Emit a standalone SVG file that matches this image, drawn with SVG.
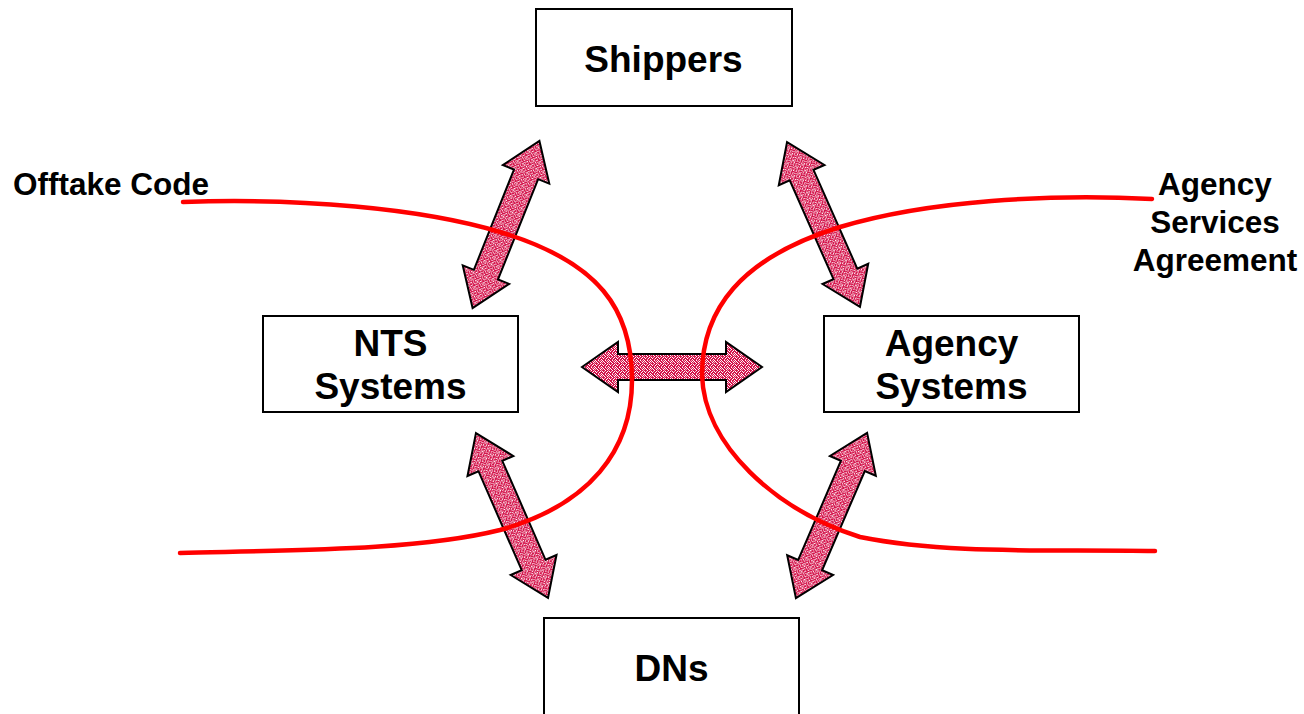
<svg xmlns="http://www.w3.org/2000/svg" width="1304" height="714" viewBox="0 0 1304 714">
<defs>
<style>
.box{fill:#fff;stroke:#000;stroke-width:2}
.lbl{font-family:"Liberation Sans",Arial,sans-serif;font-weight:bold;font-size:37px;fill:#000;text-anchor:middle}
.note{font-family:"Liberation Sans",Arial,sans-serif;font-weight:bold;font-size:31.5px;fill:#000}
.curve{fill:none;stroke:#ff0000;stroke-width:4.5;stroke-linecap:round}
.arr{fill:url(#speckle);stroke:#000;stroke-width:2;stroke-linejoin:miter}
.w{fill:#fff}
.p{fill:#f2a6ba}
</style>
<pattern id="speckle" patternUnits="userSpaceOnUse" width="7" height="7">
<rect width="7" height="7" fill="#d3124a"/>
<rect class="w" x="0" y="0" width="1" height="1"/>
<rect class="w" x="3" y="0" width="1" height="1"/>
<rect class="p" x="5" y="0" width="1" height="1"/>
<rect class="w" x="1" y="1" width="1" height="1"/>
<rect class="p" x="4" y="1" width="1" height="1"/>
<rect class="w" x="6" y="1" width="1" height="1"/>
<rect class="p" x="0" y="2" width="1" height="1"/>
<rect class="w" x="2" y="2" width="1" height="1"/>
<rect class="w" x="5" y="2" width="1" height="1"/>
<rect class="w" x="3" y="3" width="1" height="1"/>
<rect class="p" x="6" y="3" width="1" height="1"/>
<rect class="w" x="0" y="4" width="1" height="1"/>
<rect class="p" x="2" y="4" width="1" height="1"/>
<rect class="w" x="5" y="4" width="1" height="1"/>
<rect class="w" x="1" y="5" width="1" height="1"/>
<rect class="w" x="4" y="5" width="1" height="1"/>
<rect class="p" x="3" y="6" width="1" height="1"/>
<rect class="w" x="6" y="6" width="1" height="1"/>
</pattern>
<path id="dblarrow" class="arr" d="M-90,0 L-54,-25 L-54,-13 L54,-13 L54,-25 L90,0 L54,25 L54,13 L-54,13 L-54,25 Z"/>
</defs>
<rect width="1304" height="714" fill="#fff"/>

<g id="connectors">
<use href="#dblarrow" transform="translate(506,224.5) rotate(-68.2)"/>
<use href="#dblarrow" transform="translate(823.5,224.5) rotate(66.1)"/>
<use href="#dblarrow" transform="translate(672,367)"/>
<use href="#dblarrow" transform="translate(512,515.5) rotate(66.4)"/>
<use href="#dblarrow" transform="translate(831.5,515.5) rotate(-66.7)"/>
</g>

<g id="boundaries">
<path id="offtake-line" class="curve" d="M183,202 C300,198 420,208 500,232 C600,262 632,310 632,380 C632,450 590,505 500,530 C420,550 300,550 180,553"/>
<path id="agency-line" class="curve" d="M1152,199 C1050,194 930,200 840,227 C740,258 702,310 702,375 C704,445 775,510 860,537 C950,555 1050,549 1155,551"/>
</g>

<g id="node-shippers">
<rect class="box" x="536" y="9" width="256" height="97"/>
<text class="lbl" x="663.5" y="72">Shippers</text>
</g>
<g id="node-nts">
<rect class="box" x="263" y="316" width="255" height="96"/>
<text class="lbl" x="390.5" y="356">NTS</text>
<text class="lbl" x="390.5" y="399">Systems</text>
</g>
<g id="node-agency">
<rect class="box" x="824" y="316" width="255" height="96"/>
<text class="lbl" x="951.5" y="356">Agency</text>
<text class="lbl" x="951.5" y="399">Systems</text>
</g>
<g id="node-dns">
<rect class="box" x="544" y="618" width="255" height="110"/>
<text class="lbl" x="671.5" y="681">DNs</text>
</g>

<g id="label-offtake">
<text class="note" x="13" y="195">Offtake Code</text>
</g>
<g id="label-asa">
<text class="note" x="1215" y="195" text-anchor="middle">Agency</text>
<text class="note" x="1215" y="233" text-anchor="middle">Services</text>
<text class="note" x="1215" y="271" text-anchor="middle">Agreement</text>
</g>
</svg>
